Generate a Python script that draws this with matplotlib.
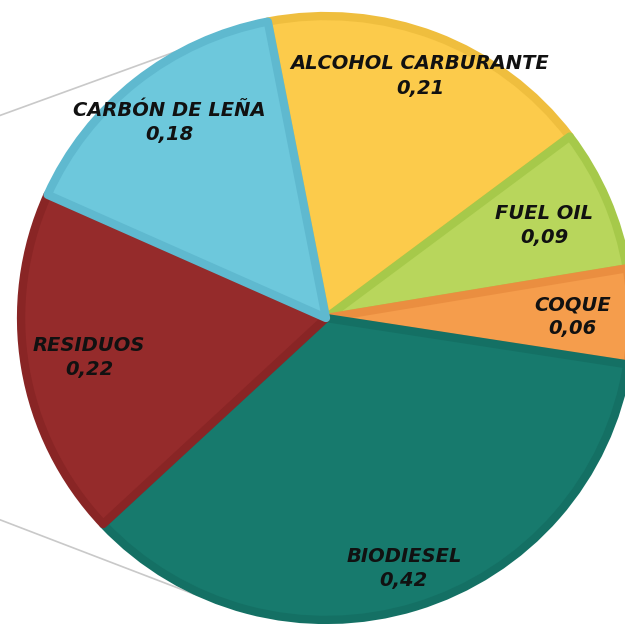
import numpy as np
import matplotlib
matplotlib.use("Agg")
import matplotlib.pyplot as plt

# datos del grafico (sentido horario desde arriba)
categorias = ["ALCOHOL CARBURANTE", "FUEL OIL", "COQUE", "BIODIESEL", "RESIDUOS", "CARBÓN DE LEÑA"]
valores = [0.21, 0.09, 0.06, 0.42, 0.22, 0.18]

colores = ["#FCCB4B", "#B8D65C", "#F59D4C", "#177A6D", "#952B2B", "#6DC8DC"]
bordes = ["#EFBE3E", "#A6C94A", "#EA8E40", "#147064", "#892525", "#5FB9CF"]
dist_etiqueta = [0.85, 0.77, 0.80, 0.86, 0.78, 0.82]

etiquetas = [c + "\n" + ("%.2f" % v).replace(".", ",") for c, v in zip(categorias, valores)]

fig = plt.figure(figsize=(6.25, 6.24), dpi=100)
ax = fig.add_axes([0, 0, 1, 1])

wedges, textos = ax.pie(valores, labels=etiquetas, colors=colores, startangle=101,
                        counterclock=False, labeldistance=0.8, radius=0.99,
                        wedgeprops=dict(linewidth=6, joinstyle="round"),
                        textprops=dict(ha="center", va="center", fontsize=14,
                                       fontweight="bold", fontstyle="italic",
                                       color="#111111", linespacing=1.35))

for w, b in zip(wedges, bordes):
    w.set_edgecolor(b)

# etiquetas a su distancia del centro
for t, w, d in zip(textos, wedges, dist_etiqueta):
    ang = np.deg2rad((w.theta1 + w.theta2) / 2)
    t.set_position((d * np.cos(ang), d * np.sin(ang)))

# lineas grises del fondo (diapositiva)
ax.plot([0, 0.33], [0.815, 0.935], color="#C9C9C9", lw=1.2, transform=ax.transAxes, zorder=0)
ax.plot([0, 0.31], [0.167, 0.048], color="#C9C9C9", lw=1.2, transform=ax.transAxes, zorder=0)

# recorte: centro en (326, 318) px, radio ~ 308 px horizontal, 305 vertical
rx, ry = 308.0, 305.0
cx, cy = 326.0, 318.0
ax.set_aspect("auto")
ax.set_xlim(-cx / rx, (625 - cx) / rx)
ax.set_ylim(-(624 - cy) / ry, cy / ry)
ax.axis("off")

fig.savefig("out.png", dpi=100)
